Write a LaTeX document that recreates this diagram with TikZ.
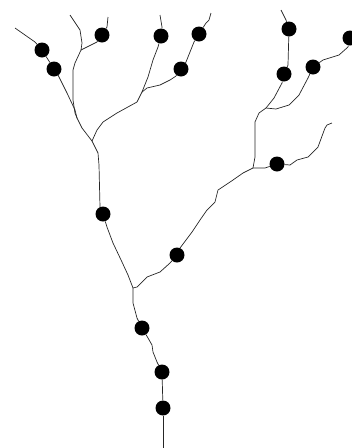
\documentclass[tikz,border=0pt]{standalone}
\usepackage{tikz}
\usetikzlibrary{positioning}

\begin{document}
\begin{tikzpicture}[
        x=1pt, y=-1pt,
        dot/.style={circle, fill=black, inner sep=0pt, minimum size=15pt},
        twig/.style={draw=black!85, line width=0.7pt, line join=round}
    ]
        \useasboundingbox (0,0) rectangle (352,448);

        % ends and forks
        \coordinate (root) at (163,448);
        \coordinate (fork1) at (133,288);
        \coordinate (fork2) at (92,141);
        \coordinate (fork3) at (77,118);
        \coordinate (fork4) at (81,50);
        \coordinate (fork5) at (142,92);
        \coordinate (fork6) at (253,168);
        \coordinate (fork7) at (266,108);
        \coordinate (tip1) at (15,28);
        \coordinate (tip2) at (70,15);
        \coordinate (tip3) at (108,17);
        \coordinate (tip4) at (160,15);
        \coordinate (tip5) at (211,13);
        \coordinate (tip6) at (332,123);
        \coordinate (tip7) at (281,10);

        % buds
        \node[dot] (bud1) at (42,50) {};
        \node[dot] (bud2) at (54,69) {};
        \node[dot] (bud3) at (102,35) {};
        \node[dot] (bud4) at (161,36) {};
        \node[dot] (bud5) at (199,34) {};
        \node[dot] (bud6) at (181,69) {};
        \node[dot] (bud7) at (289,29) {};
        \node[dot] (bud8) at (284,74) {};
        \node[dot] (bud9) at (313,67) {};
        \node[dot] (bud10) at (350,38) {};
        \node[dot] (bud11) at (277,164) {};
        \node[dot] (bud12) at (103,214) {};
        \node[dot] (bud13) at (177,255) {};
        \node[dot] (bud14) at (142,328) {};
        \node[dot] (bud15) at (162,372) {};
        \node[dot] (bud16) at (163,408) {};

        % trunk
        \draw[twig] (root) -- (bud16);
        \draw[twig] (bud16) -- (bud15);
        \draw[twig] (bud15) -- (157,362) -- (153,352) -- (152,345) -- (148,338) -- (bud14);
        \draw[twig] (bud14) -- (137,318) -- (133,303) -- (fork1);

        % left limb
        \draw[twig] (fork1) -- (128,275) -- (122,262) -- (113,243) -- (107,227) -- (bud12);
        \draw[twig] (bud12) -- (100,207) -- (99,165) -- (98,153) -- (95,147) -- (fork2);
        \draw[twig] (fork2) -- (82,128) -- (fork3);
        \draw[twig] (fork3) -- (75,110) -- (67,93) -- (58,75) -- (bud2);
        \draw[twig] (bud2) -- (bud1);
        \draw[twig] (bud1) -- (35,42) -- (tip1);
        \draw[twig] (fork3) -- (75,113) -- (73,100) -- (73,70) -- (75,63) -- (fork4);
        \draw[twig] (fork4) -- (82,43) -- (80,30) -- (tip2);
        \draw[twig] (fork4) -- (87,47) -- (97,42) -- (bud3);
        \draw[twig] (bud3) -- (107,27) -- (tip3);
        \draw[twig] (fork2) -- (97,130) -- (103,122) -- (117,113) -- (137,102) -- (fork5);
        \draw[twig] (fork5) -- (148,77) -- (153,60) -- (158,47) -- (bud4);
        \draw[twig] (bud4) -- (162,27) -- (tip4);
        \draw[twig] (fork5) -- (147,88) -- (160,85) -- (170,80) -- (176,76) -- (bud6);
        \draw[twig] (bud6) -- (186,62) -- (194,42) -- (bud5);
        \draw[twig] (bud5) -- (206,23) -- (209,20) -- (tip5);

        % right limb
        \draw[twig] (fork1) -- (137,287) -- (147,277) -- (160,272) -- (170,263) -- (bud13);
        \draw[twig] (bud13) -- (180,248) -- (192,232) -- (200,220) -- (207,210) -- (215,202)
            -- (218,190) -- (233,180) -- (243,173) -- (fork6);
        \draw[twig] (fork6) -- (265,168) -- (bud11);
        \draw[twig] (bud11) -- (290,165) -- (297,160) -- (308,157) -- (318,147) -- (325,128)
            -- (327,125) -- (tip6);
        \draw[twig] (fork6) -- (255,157) -- (255,122) -- (259,113) -- (fork7);
        \draw[twig] (fork7) -- (274,98) -- (282,83) -- (bud8);
        \draw[twig] (bud8) -- (288,65) -- (bud7);
        \draw[twig] (bud7) -- (286,20) -- (tip7);
        \draw[twig] (fork7) -- (276,109) -- (289,105) -- (299,95) -- (308,78) -- (bud9);
        \draw[twig] (bud9) -- (323,60) -- (339,55) -- (348,47) -- (bud10);
    \end{tikzpicture}
\end{document}
